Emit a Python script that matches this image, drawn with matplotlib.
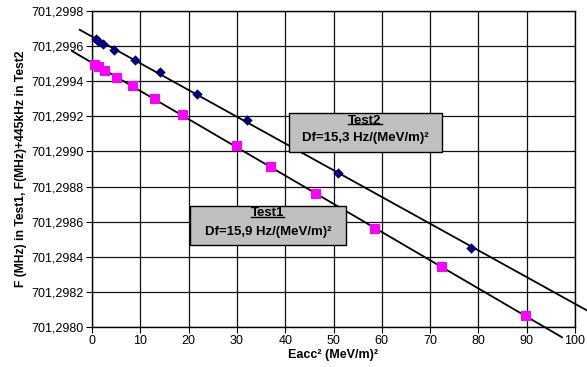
import matplotlib
matplotlib.use("Agg")
import matplotlib.pyplot as plt
import numpy as np
from matplotlib.patches import Rectangle
from matplotlib.ticker import FuncFormatter, MultipleLocator
from matplotlib.lines import Line2D

plt.rcParams['font.family'] = ['Liberation Sans', 'DejaVu Sans']

# Data
test2_x = [0.76, 1.3, 2.35, 4.55, 8.8, 14.0, 21.7, 32.0, 51.0, 78.5]
test2_y = [701.29964, 701.29963, 701.29961, 701.29958, 701.29952, 701.29945,
           701.29933, 701.29918, 701.29888, 701.29845]
test1_x = [0.6, 1.45, 2.76, 5.1, 8.4, 13.0, 18.8, 30.0, 37.1, 46.4, 58.6, 72.5, 89.8]
test1_y = [701.29949, 701.29948, 701.29946, 701.29942, 701.29937, 701.29930,
           701.29921, 701.29903, 701.29891, 701.29876, 701.29856, 701.29834, 701.29806]
x_ticks = list(range(0, 101, 10))
label_test1 = ("Test1", "Df=15,9 Hz/(MeV/m)²")
label_test2 = ("Test2", "Df=15,3 Hz/(MeV/m)²")

fig = plt.figure(figsize=(5.87, 3.67), dpi=100)
ax = fig.add_axes([92/587, 1-327/367, 483/587, 316/367])

ax.set_xlim(0, 100)
ax.set_ylim(701.2980, 701.2998)
ax.set_xticks(x_ticks)
ax.yaxis.set_major_locator(MultipleLocator(0.0002))
ax.yaxis.set_major_formatter(FuncFormatter(lambda v, p: f"{v:.4f}".replace('.', ',')))
ax.grid(True, color='#111111', linewidth=0.9)
ax.set_axisbelow(True)
for s in ax.spines.values():
    s.set_color('black')
    s.set_linewidth(1.0)
ax.tick_params(direction='out', length=4, width=0.8, labelsize=9, colors='black', pad=2)

# Trend lines (linear fits, with forecast)
def trend(xs, ys, back, fwd):
    k, b = np.polyfit(xs, ys, 1)
    xx = np.array([min(xs) - back, max(xs) + fwd])
    ax.plot(xx, k*xx + b, color='black', linewidth=1.3, clip_on=False, zorder=3)

trend(test2_x, test2_y, 3.3, 25)
trend(test1_x, test1_y, 4.7, 7.5)

ax.scatter(test1_x, test1_y, marker='s', s=55, color='#FF00FF', zorder=4, clip_on=False, linewidths=0)
ax.scatter(test2_x, test2_y, marker='D', s=28, color='#000080', zorder=5, clip_on=False, linewidths=0)

ax.set_xlabel("Eacc² (MeV/m)²", fontsize=9, fontweight='bold', labelpad=1)
ax.set_ylabel("F (MHz) in Test1, F(MHz)+445kHz in Test2", fontsize=8.7, fontweight='bold', labelpad=3)

def box(x0, x1, y0, y1, cx, ty, dy, lines):
    ax.add_patch(Rectangle((x0, y0), x1-x0, y1-y0, transform=ax.transAxes,
                           facecolor='#C0C0C0', edgecolor='black', linewidth=1.0, zorder=6))
    t = ax.text(cx, ty, lines[0], transform=ax.transAxes, ha='center', va='center',
                fontsize=9.5, fontweight='bold', zorder=7)
    ax.text(cx, dy, lines[1], transform=ax.transAxes, ha='center', va='center',
            fontsize=9.5, fontweight='bold', zorder=7)
    return t

t2 = box(0.408, 0.725, 0.554, 0.677, 0.565, 0.652, 0.599, label_test2)
t1 = box(0.203, 0.526, 0.259, 0.383, 0.364, 0.360, 0.302, label_test1)

fig.canvas.draw()
r = fig.canvas.get_renderer()
for t in (t1, t2):
    bb = t.get_window_extent(r)
    yline = bb.y0 + 2.5
    fig.add_artist(Line2D([bb.x0, bb.x1], [yline, yline], transform=None,
                          color='black', linewidth=1.0, zorder=8))

fig.savefig("out.png", dpi=100)
